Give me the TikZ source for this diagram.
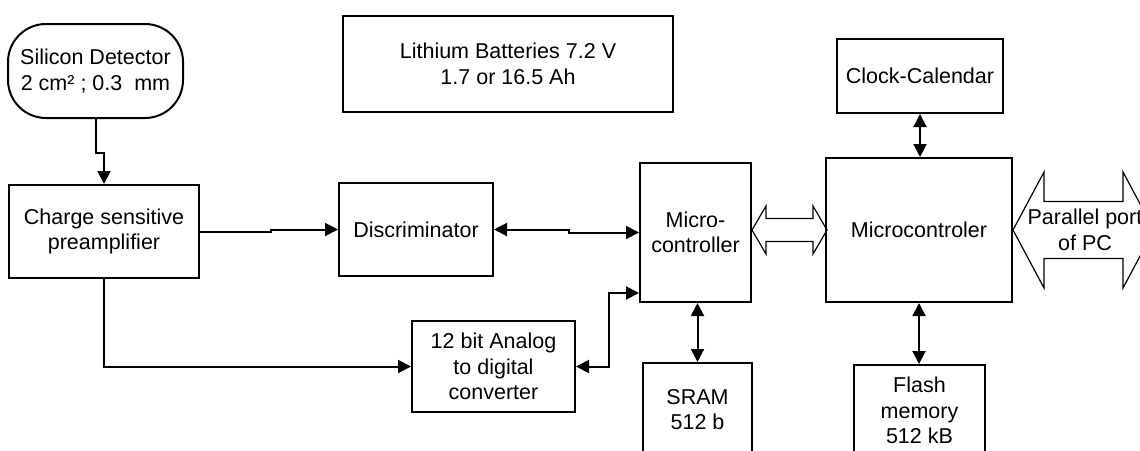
\documentclass[tikz,border=0pt]{standalone}
\usepackage{fontspec}
\setmainfont{Liberation Sans}
\usetikzlibrary{arrows.meta,positioning}
\tikzset{
  ar/.style={-{Triangle[length=6.5pt,width=6.5pt]},line width=1pt},
  dar/.style={{Triangle[length=6.5pt,width=6.5pt]}-{Triangle[length=6.5pt,width=6.5pt]},line width=1pt},
  txt/.style={align=center,inner sep=0pt,font=\fontsize{10.75}{12.75}\selectfont},
  blk/.style={txt,draw,line width=1pt},
  bus/.style={draw,line width=0.6pt,line join=miter}
}
\begin{document}
\begin{tikzpicture}[x=0.5pt,y=-0.5pt]
\useasboundingbox (0,0) rectangle (1140,450);
\clip (0,0) rectangle (1140,450);
\node[blk,rounded corners=19pt,minimum width=87.5pt,minimum height=47pt] (det) at (95.5,71) {Silicon Detector\\2 cm² ; 0.3~~mm};
\node[blk,minimum width=165pt,minimum height=48pt] (lith) at (508,64) {Lithium Batteries 7.2 V\\1.7 or 16.5 Ah};
\node[blk,minimum width=95pt,minimum height=46.5pt] (charge) at (104,231.5) {Charge sensitive\\preamplifier};
\node[blk,minimum width=77pt,minimum height=46.5pt] (disc) at (416,229.5) {Discriminator};
\node[blk,minimum width=55.5pt,minimum height=69.5pt] (micro) at (695.5,232.5) {Micro-\\controller};
\node[blk,minimum width=81.5pt,minimum height=45.5pt] (adc) at (493.5,366.5) {12 bit Analog\\to digital\\converter};
\node[blk,minimum width=54.5pt,minimum height=46.5pt] (sram) at (697.5,409.5) {SRAM\\512 b};
\node[blk,minimum width=65.5pt,minimum height=45.5pt] (flash) at (919.5,410.5) {Flash\\memory\\512 kB};
\node[blk,minimum width=83pt,minimum height=37pt] (clock) at (920,76) {Clock-Calendar};
\node[blk,minimum width=93pt,minimum height=72pt] (mcu) at (919,230) {Microcontroler};
\node[txt] (pc) at (1085,230) {Parallel port\\of PC};

\draw[ar] (det.south) -- ++(0,34) -| (charge.north);
\draw[ar] (charge.east) -- ++(71,0) |- (disc.west);
\draw[dar] (disc.east) -- ++(75,0) |- (micro.west);
\draw[ar] (charge.south) |- (adc.west);
\draw[dar] (adc.east) -- ++(33,0) |- ([yshift=5pt]micro.south west);
\draw[dar] (micro.south -| sram.north) -- (sram.north);
\draw[dar] (clock.south) -- (clock.south |- mcu.north);
\draw[dar] (mcu.south) -- (mcu.south |- flash.north);

\draw[bus] (micro.east |- mcu.west) -- ++(14,-24) -- ++(0,12.5) -- ++(47,0) -- ++(0,-12.5) -- ++(14,24)
  -- ++(-14,24) -- ++(0,-12.5) -- ++(-47,0) -- ++(0,12.5) -- cycle;
\draw[bus] (mcu.east) -- ++(31,-58) -- ++(0,29.5) -- ++(79,0) -- ++(0,-29.5) -- ++(31,58)
  -- ++(-31,58) -- ++(0,-29.5) -- ++(-79,0) -- ++(0,29.5) -- cycle;
\end{tikzpicture}
\end{document}
